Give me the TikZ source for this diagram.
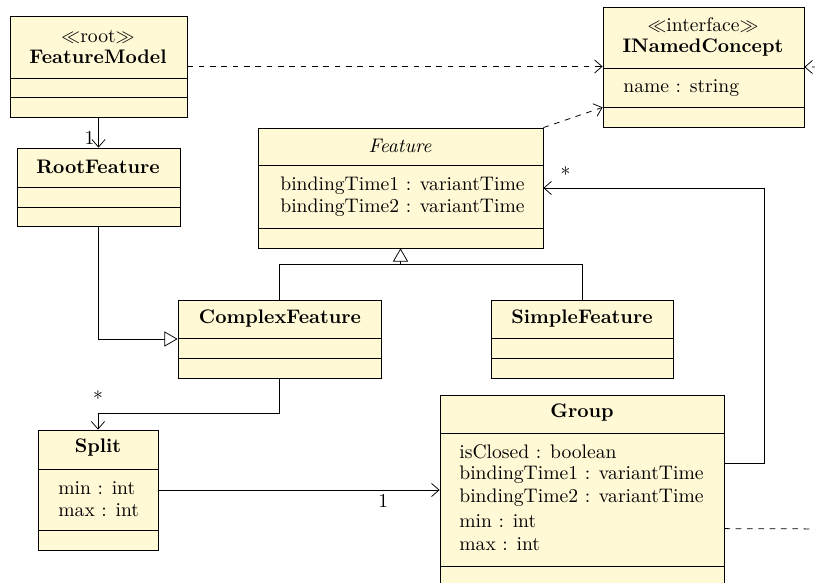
\documentclass[tikz,border=0pt]{standalone}
\usepackage{amsmath}
\usepackage{amssymb}
\usepackage{tikz}
\usetikzlibrary{arrows.meta,fit,calc,positioning}

\definecolor{classfill}{HTML}{FFF9D6}

\tikzset{
  classbox/.style={draw, fill=classfill, inner sep=0pt},
  classname/.style={font=\bfseries, inner sep=0pt},
  attr/.style={anchor=west, inner sep=0pt},
  assoc/.style={-{Straight Barb[length=4pt,width=7pt]}},
  realize/.style={dashed, -{Straight Barb[length=4pt,width=7pt]}},
  inherit/.style={-{Triangle[open,length=7pt,width=8pt,fill=white]}},
  mult/.style={inner sep=1pt},
}

\begin{document}
\fontsize{10.4}{12.5}\selectfont
\begin{tikzpicture}[x=0.53pt, y=-0.53pt]
  \useasboundingbox (0,0) rectangle (815,583);
  \clip (0,0) rectangle (815,583);

  % class boxes
  \node[classbox, fit={(10,16) (187,117)}] (fm) {};
  \node[classbox, fit={(17,148) (180,226)}] (rs) {};
  \node[classbox, fit={(603,7) (804,127)}] (inc) {};
  \node[classbox, fit={(258,128) (543,248)}] (feat) {};
  \node[classbox, fit={(178,300) (381,378)}] (cf) {};
  \node[classbox, fit={(491,300) (673,378)}] (sf) {};
  \node[classbox, fit={(38,430) (158,550)}] (sp) {};
  \node[classbox, fit={(440,395) (724,600)}] (grp) {};

  % compartments
  \foreach \ya/\yb/\xa/\xb in {78/97/10/187, 187/207/17/180, 68/107/603/804,
      165/228/258/543, 338/358/178/381, 338/358/491/673, 469/530/38/158,
      433/566/440/724}
  {
    \draw (\xa,\ya) -- (\xb,\ya);
    \draw (\xa,\yb) -- (\xb,\yb);
  }

  % names
  \node[inner sep=0pt] (fmst) at (98,37) {$\ll$root$\gg$};
  \node[classname] (fmname) at (98,57) {FeatureModel};
  \node[classname] (rsname) at (98,167) {RootFeature};
  \node[inner sep=0pt] (incst) at (703,25) {$\ll$interface$\gg$};
  \node[classname] (incname) at (703,48) {INamedConcept};
  \node[attr] (incname1) at (623,88) {name : string};
  \node[inner sep=0pt, font=\itshape] (featname) at (400,146) {Feature};
  \node[attr] (feat1) at (280,186) {bindingTime1 : variantTime};
  \node[attr] (feat2) at (280,208) {bindingTime2 : variantTime};
  \node[classname] (cfname) at (280,319) {ComplexFeature};
  \node[classname] (sfname) at (582,319) {SimpleFeature};
  \node[classname] (spname) at (98,448) {Split};
  \node[attr] (sp1) at (58,488) {min : int};
  \node[attr] (sp2) at (58,510) {max : int};
  \node[classname] (grpname) at (582,413) {Group};
  \node[attr] (grp1) at (459,452) {isClosed : boolean};
  \node[attr] (grp2) at (459,475) {bindingTime1 : variantTime};
  \node[attr] (grp3) at (459,498) {bindingTime2 : variantTime};
  \node[attr] (grp4) at (459,521) {min : int};
  \node[attr] (grp5) at (459,544) {max : int};

  % realizations
  \draw[realize] (fm.east) -- (fm.east -| inc.west);
  \draw[realize] (feat.north east) -- ([yshift=10.6pt]inc.south west);
  \draw[realize] ($(grp.north east)+(0,134)$) -- (840,529) |- (inc.east);

  % associations
  \draw[assoc] (fm.south) -- (rs.north) node[mult, pos=0.68, left, xshift=-1pt] {1};
  \draw[assoc] (cf.south) -- ++(0,35) -| (sp.north) node[mult, pos=0.5, above, yshift=3pt] {*};
  \draw[assoc] (sp.east) -- (sp.east -| grp.west) node[mult, pos=0.8, below, yshift=-1pt] {1};
  \draw[assoc] ($(grp.north east)+(0,69)$) -- ++(40,0) |- (feat.east) node[mult, pos=0.95, above, yshift=2pt] {*};

  % generalizations
  \draw[inherit] (rs.south) |- (cf.west);
  \coordinate (genjoin) at ($(feat.south)+(0,16)$);
  \draw (cf.north) |- (genjoin) -| (sf.north);
  \draw[inherit] (genjoin) -- (feat.south);
\end{tikzpicture}
\end{document}
